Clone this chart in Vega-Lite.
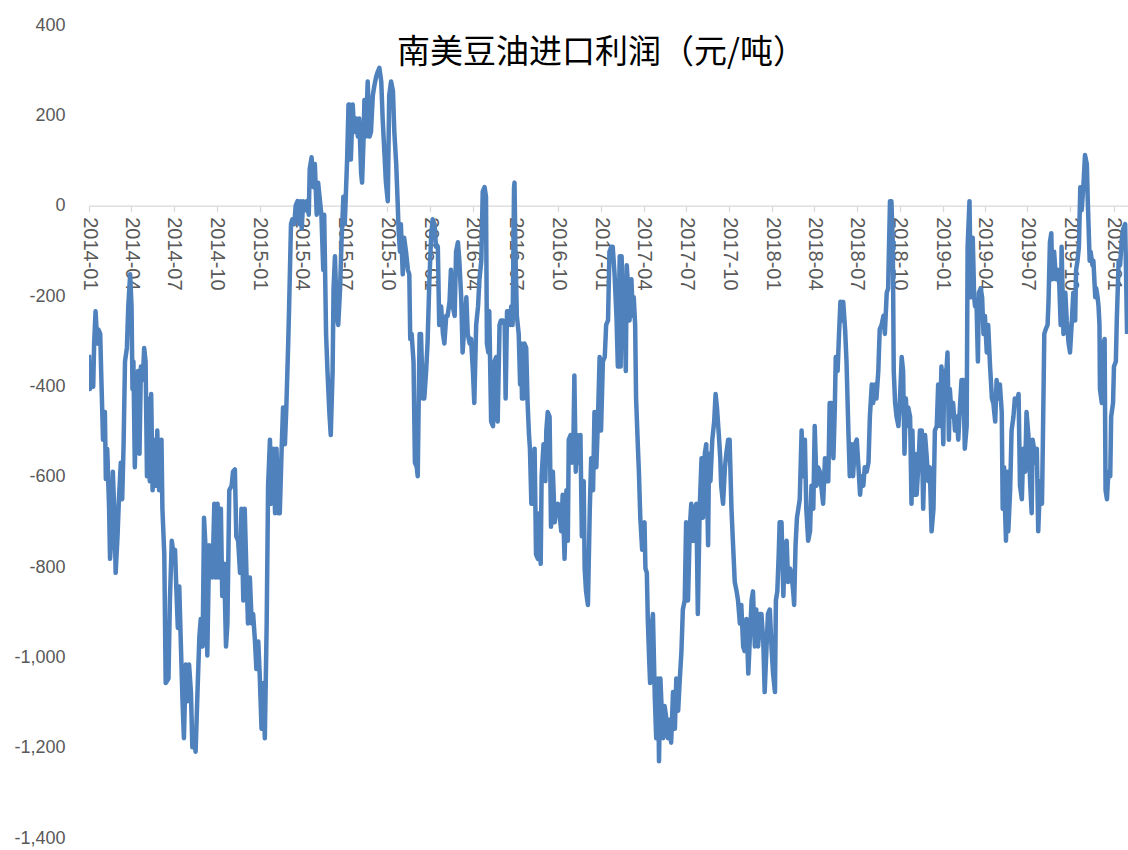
{
"$schema":"https://vega.github.io/schema/vega-lite/v6.json",
"width":1039,"height":813,
"autosize":{"type":"none"},
"padding":{"left":89,"top":25,"right":0,"bottom":12},
"background":"white",
"config":{"view":{"stroke":null}},
"data":{"format":{"parse":{"d":"date:'%Y-%j'"}},"values":[
{"d":"2014-1","v":-330},{"d":"2014-3","v":-406},{"d":"2014-7","v":-366},{"d":"2014-10","v":-401},{"d":"2014-12","v":-305},{"d":"2014-15","v":-234},{"d":"2014-19","v":-305},{"d":"2014-21","v":-274},{"d":"2014-25","v":-284},{"d":"2014-27","v":-366},{"d":"2014-31","v":-518},{"d":"2014-35","v":-457},{"d":"2014-37","v":-605},{"d":"2014-40","v":-539},{"d":"2014-44","v":-671},{"d":"2014-46","v":-782},{"d":"2014-50","v":-721},{"d":"2014-52","v":-589},{"d":"2014-56","v":-701},{"d":"2014-58","v":-813},{"d":"2014-62","v":-732},{"d":"2014-65","v":-650},{"d":"2014-69","v":-569},{"d":"2014-72","v":-650},{"d":"2014-75","v":-528},{"d":"2014-78","v":-345},{"d":"2014-82","v":-315},{"d":"2014-85","v":-223},{"d":"2014-89","v":-152},{"d":"2014-92","v":-223},{"d":"2014-94","v":-406},{"d":"2014-96","v":-345},{"d":"2014-99","v":-579},{"d":"2014-102","v":-447},{"d":"2014-106","v":-366},{"d":"2014-109","v":-549},{"d":"2014-112","v":-356},{"d":"2014-116","v":-386},{"d":"2014-119","v":-315},{"d":"2014-122","v":-345},{"d":"2014-125","v":-599},{"d":"2014-127","v":-427},{"d":"2014-131","v":-610},{"d":"2014-134","v":-417},{"d":"2014-137","v":-630},{"d":"2014-140","v":-518},{"d":"2014-144","v":-620},{"d":"2014-147","v":-498},{"d":"2014-151","v":-630},{"d":"2014-156","v":-518},{"d":"2014-158","v":-671},{"d":"2014-162","v":-772},{"d":"2014-165","v":-1057},{"d":"2014-171","v":-1047},{"d":"2014-174","v":-874},{"d":"2014-178","v":-742},{"d":"2014-182","v":-772},{"d":"2014-185","v":-762},{"d":"2014-188","v":-854},{"d":"2014-191","v":-935},{"d":"2014-194","v":-843},{"d":"2014-197","v":-955},{"d":"2014-201","v":-1097},{"d":"2014-204","v":-1179},{"d":"2014-208","v":-1016},{"d":"2014-212","v":-1097},{"d":"2014-215","v":-1016},{"d":"2014-219","v":-1077},{"d":"2014-222","v":-1199},{"d":"2014-226","v":-1179},{"d":"2014-229","v":-1209},{"d":"2014-233","v":-1077},{"d":"2014-237","v":-955},{"d":"2014-240","v":-915},{"d":"2014-244","v":-976},{"d":"2014-247","v":-691},{"d":"2014-251","v":-772},{"d":"2014-254","v":-996},{"d":"2014-258","v":-752},{"d":"2014-261","v":-793},{"d":"2014-265","v":-823},
{"d":"2014-269","v":-660},{"d":"2014-272","v":-823},{"d":"2014-276","v":-660},{"d":"2014-279","v":-823},{"d":"2014-283","v":-671},{"d":"2014-286","v":-864},{"d":"2014-290","v":-793},{"d":"2014-294","v":-976},{"d":"2014-297","v":-925},{"d":"2014-301","v":-630},{"d":"2014-306","v":-620},{"d":"2014-309","v":-589},{"d":"2014-313","v":-584},{"d":"2014-316","v":-732},{"d":"2014-320","v":-742},{"d":"2014-324","v":-813},{"d":"2014-327","v":-671},{"d":"2014-331","v":-874},{"d":"2014-334","v":-671},{"d":"2014-338","v":-823},{"d":"2014-341","v":-925},{"d":"2014-345","v":-823},{"d":"2014-349","v":-925},{"d":"2014-352","v":-904},{"d":"2014-356","v":-965},{"d":"2014-359","v":-1026},{"d":"2014-363","v":-965},
{"d":"2015-1","v":-1036},{"d":"2015-5","v":-1158},{"d":"2015-9","v":-1057},{"d":"2015-12","v":-1179},{"d":"2015-16","v":-925},{"d":"2015-19","v":-620},{"d":"2015-23","v":-518},{"d":"2015-26","v":-660},{"d":"2015-30","v":-538},{"d":"2015-34","v":-681},{"d":"2015-37","v":-538},{"d":"2015-41","v":-681},{"d":"2015-44","v":-681},{"d":"2015-48","v":-538},{"d":"2015-51","v":-447},{"d":"2015-55","v":-528},{"d":"2015-58","v":-447},{"d":"2015-62","v":-305},{"d":"2015-64","v":-223},{"d":"2015-68","v":-41},{"d":"2015-71","v":-30},{"d":"2015-75","v":-41},{"d":"2015-78","v":0},{"d":"2015-82","v":10},{"d":"2015-86","v":-41},{"d":"2015-88","v":10},{"d":"2015-91","v":-51},{"d":"2015-94","v":10},{"d":"2015-98","v":-10},{"d":"2015-102","v":10},{"d":"2015-106","v":-20},{"d":"2015-108","v":81},{"d":"2015-112","v":107},{"d":"2015-116","v":41},{"d":"2015-119","v":92},{"d":"2015-123","v":-20},{"d":"2015-126","v":51},{"d":"2015-130","v":10},{"d":"2015-133","v":-20},{"d":"2015-137","v":-142},{"d":"2015-139","v":-20},{"d":"2015-143","v":-284},{"d":"2015-146","v":-366},{"d":"2015-150","v":-457},{"d":"2015-153","v":-508},{"d":"2015-157","v":-366},{"d":"2015-159","v":-183},{"d":"2015-162","v":-112},{"d":"2015-166","v":-244},{"d":"2015-169","v":-264},{"d":"2015-173","v":-183},{"d":"2015-176","v":-81},{"d":"2015-180","v":20},{"d":"2015-183","v":-41},{"d":"2015-188","v":102},{"d":"2015-191","v":224},
{"d":"2015-193","v":224},{"d":"2015-196","v":102},{"d":"2015-200","v":224},{"d":"2015-203","v":163},{"d":"2015-207","v":193},{"d":"2015-211","v":153},{"d":"2015-214","v":193},{"d":"2015-218","v":71},{"d":"2015-220","v":51},{"d":"2015-223","v":142},{"d":"2015-225","v":234},{"d":"2015-228","v":153},{"d":"2015-232","v":275},{"d":"2015-236","v":153},{"d":"2015-239","v":163},{"d":"2015-243","v":244},{"d":"2015-246","v":264},{"d":"2015-250","v":285},{"d":"2015-253","v":295},{"d":"2015-257","v":305},{"d":"2015-261","v":275},{"d":"2015-264","v":193},{"d":"2015-268","v":112},{"d":"2015-271","v":51},{"d":"2015-275","v":10},{"d":"2015-278","v":244},{"d":"2015-282","v":275},{"d":"2015-286","v":254},{"d":"2015-289","v":163},{"d":"2015-293","v":92},{"d":"2015-296","v":10},{"d":"2015-298","v":-51},{"d":"2015-301","v":-102},{"d":"2015-303","v":-41},{"d":"2015-307","v":-152},{"d":"2015-310","v":-71},{"d":"2015-314","v":-102},{"d":"2015-318","v":-142},{"d":"2015-321","v":-152},{"d":"2015-323","v":-295},{"d":"2015-326","v":-284},{"d":"2015-330","v":-345},{"d":"2015-333","v":-569},{"d":"2015-337","v":-579},{"d":"2015-339","v":-599},{"d":"2015-343","v":-284},{"d":"2015-346","v":-284},{"d":"2015-350","v":-427},{"d":"2015-353","v":-427},{"d":"2015-357","v":-366},{"d":"2015-360","v":-305},{"d":"2015-364","v":-163},
{"d":"2016-3","v":-61},{"d":"2016-6","v":-30},{"d":"2016-10","v":-41},{"d":"2016-13","v":-91},{"d":"2016-17","v":-91},{"d":"2016-20","v":-264},{"d":"2016-24","v":-223},{"d":"2016-28","v":-284},{"d":"2016-31","v":-305},{"d":"2016-35","v":-244},{"d":"2016-38","v":-244},{"d":"2016-42","v":-213},{"d":"2016-45","v":-142},{"d":"2016-49","v":-223},{"d":"2016-53","v":-244},{"d":"2016-56","v":-102},{"d":"2016-60","v":-81},{"d":"2016-63","v":-122},{"d":"2016-67","v":-203},{"d":"2016-70","v":-325},{"d":"2016-74","v":-264},{"d":"2016-78","v":-203},{"d":"2016-81","v":-284},{"d":"2016-85","v":-305},{"d":"2016-88","v":-295},{"d":"2016-92","v":-366},{"d":"2016-95","v":-437},{"d":"2016-99","v":-264},{"d":"2016-103","v":-223},{"d":"2016-106","v":-163},{"d":"2016-110","v":-122},{"d":"2016-113","v":31},
{"d":"2016-117","v":41},{"d":"2016-120","v":20},{"d":"2016-122","v":-305},{"d":"2016-125","v":-325},{"d":"2016-127","v":-234},{"d":"2016-131","v":-478},{"d":"2016-135","v":-488},{"d":"2016-138","v":-345},{"d":"2016-142","v":-335},{"d":"2016-145","v":-478},{"d":"2016-149","v":-264},{"d":"2016-152","v":-254},{"d":"2016-156","v":-254},{"d":"2016-160","v":-264},{"d":"2016-162","v":-427},{"d":"2016-165","v":-234},{"d":"2016-168","v":-234},{"d":"2016-172","v":-264},{"d":"2016-174","v":-223},{"d":"2016-177","v":-264},{"d":"2016-180","v":41},{"d":"2016-181","v":51},{"d":"2016-183","v":-102},{"d":"2016-186","v":-244},{"d":"2016-188","v":-264},{"d":"2016-190","v":-284},{"d":"2016-193","v":-396},{"d":"2016-195","v":-305},{"d":"2016-197","v":-427},{"d":"2016-200","v":-427},{"d":"2016-202","v":-305},{"d":"2016-206","v":-315},{"d":"2016-209","v":-437},{"d":"2016-212","v":-508},{"d":"2016-214","v":-538},{"d":"2016-217","v":-660},{"d":"2016-220","v":-660},{"d":"2016-224","v":-538},{"d":"2016-227","v":-772},{"d":"2016-231","v":-782},{"d":"2016-234","v":-681},{"d":"2016-237","v":-793},{"d":"2016-239","v":-599},{"d":"2016-243","v":-528},{"d":"2016-247","v":-610},{"d":"2016-249","v":-498},{"d":"2016-252","v":-457},{"d":"2016-256","v":-467},{"d":"2016-259","v":-711},{"d":"2016-263","v":-589},{"d":"2016-267","v":-701},{"d":"2016-270","v":-671},{"d":"2016-274","v":-660},{"d":"2016-277","v":-681},{"d":"2016-281","v":-721},{"d":"2016-284","v":-640},{"d":"2016-288","v":-782},{"d":"2016-292","v":-630},{"d":"2016-295","v":-742},{"d":"2016-297","v":-518},{"d":"2016-301","v":-508},{"d":"2016-304","v":-569},{"d":"2016-307","v":-518},{"d":"2016-309","v":-376},{"d":"2016-312","v":-589},{"d":"2016-315","v":-508},{"d":"2016-319","v":-569},{"d":"2016-322","v":-508},{"d":"2016-325","v":-732},{"d":"2016-329","v":-610},{"d":"2016-331","v":-803},{"d":"2016-334","v":-854},{"d":"2016-338","v":-884},{"d":"2016-342","v":-671},{"d":"2016-345","v":-559},{"d":"2016-349","v":-630},{"d":"2016-352","v":-457},{"d":"2016-356","v":-579},{"d":"2016-359","v":-488},{"d":"2016-363","v":-335},{"d":"2016-366","v":-498},
{"d":"2017-4","v":-345},{"d":"2017-8","v":-335},{"d":"2017-11","v":-264},{"d":"2017-15","v":-254},{"d":"2017-18","v":-102},{"d":"2017-22","v":-91},{"d":"2017-25","v":-91},{"d":"2017-29","v":-152},{"d":"2017-33","v":-244},{"d":"2017-36","v":-356},
{"d":"2017-40","v":-112},{"d":"2017-42","v":-356},{"d":"2017-44","v":-112},{"d":"2017-47","v":-223},{"d":"2017-50","v":-223},{"d":"2017-53","v":-366},{"d":"2017-55","v":-132},{"d":"2017-58","v":-183},{"d":"2017-61","v":-254},{"d":"2017-65","v":-163},{"d":"2017-68","v":-244},{"d":"2017-70","v":-203},{"d":"2017-73","v":-264},{"d":"2017-75","v":-427},{"d":"2017-79","v":-538},{"d":"2017-81","v":-589},{"d":"2017-84","v":-691},{"d":"2017-88","v":-762},{"d":"2017-90","v":-711},{"d":"2017-93","v":-701},{"d":"2017-95","v":-803},{"d":"2017-98","v":-813},{"d":"2017-100","v":-915},{"d":"2017-103","v":-1006},{"d":"2017-105","v":-1057},{"d":"2017-108","v":-935},{"d":"2017-111","v":-904},{"d":"2017-115","v":-1087},{"d":"2017-118","v":-1179},{"d":"2017-122","v":-1047},{"d":"2017-124","v":-1230},{"d":"2017-127","v":-1047},{"d":"2017-129","v":-1097},{"d":"2017-133","v":-1179},{"d":"2017-136","v":-1108},{"d":"2017-140","v":-1138},{"d":"2017-143","v":-1179},{"d":"2017-147","v":-1138},{"d":"2017-150","v":-1189},{"d":"2017-154","v":-1077},{"d":"2017-158","v":-1158},{"d":"2017-161","v":-1047},{"d":"2017-165","v":-1118},{"d":"2017-168","v":-1057},{"d":"2017-172","v":-986},{"d":"2017-175","v":-894},{"d":"2017-179","v":-874},{"d":"2017-182","v":-701},{"d":"2017-186","v":-874},{"d":"2017-190","v":-711},{"d":"2017-193","v":-660},{"d":"2017-197","v":-742},{"d":"2017-200","v":-671},{"d":"2017-204","v":-660},{"d":"2017-207","v":-904},{"d":"2017-211","v":-671},{"d":"2017-215","v":-559},{"d":"2017-218","v":-691},{"d":"2017-222","v":-549},{"d":"2017-225","v":-528},{"d":"2017-229","v":-752},{"d":"2017-231","v":-549},{"d":"2017-234","v":-610},{"d":"2017-238","v":-518},{"d":"2017-242","v":-478},{"d":"2017-245","v":-417},{"d":"2017-248","v":-447},{"d":"2017-252","v":-508},{"d":"2017-255","v":-559},{"d":"2017-257","v":-620},{"d":"2017-261","v":-660},{"d":"2017-265","v":-579},{"d":"2017-268","v":-549},{"d":"2017-272","v":-518},{"d":"2017-275","v":-518},{"d":"2017-279","v":-671},{"d":"2017-282","v":-742},{"d":"2017-286","v":-833},{"d":"2017-290","v":-854},{"d":"2017-293","v":-874},{"d":"2017-297","v":-925},{"d":"2017-300","v":-884},{"d":"2017-304","v":-976},{"d":"2017-307","v":-986},{"d":"2017-311","v":-915},{"d":"2017-315","v":-1036},{"d":"2017-318","v":-965},{"d":"2017-322","v":-874},{"d":"2017-325","v":-854},
{"d":"2017-329","v":-976},{"d":"2017-332","v":-894},{"d":"2017-336","v":-976},{"d":"2017-340","v":-904},{"d":"2017-343","v":-904},{"d":"2017-347","v":-965},{"d":"2017-350","v":-1077},{"d":"2017-354","v":-976},{"d":"2017-357","v":-904},{"d":"2017-361","v":-894},{"d":"2017-365","v":-986},
{"d":"2018-3","v":-1036},{"d":"2018-7","v":-1077},{"d":"2018-9","v":-874},{"d":"2018-12","v":-854},{"d":"2018-15","v":-772},{"d":"2018-17","v":-701},{"d":"2018-21","v":-701},{"d":"2018-25","v":-864},{"d":"2018-28","v":-752},{"d":"2018-32","v":-742},{"d":"2018-35","v":-833},{"d":"2018-39","v":-803},{"d":"2018-42","v":-813},{"d":"2018-46","v":-854},{"d":"2018-48","v":-884},{"d":"2018-51","v":-752},{"d":"2018-54","v":-691},{"d":"2018-57","v":-671},{"d":"2018-60","v":-650},{"d":"2018-64","v":-498},{"d":"2018-67","v":-599},{"d":"2018-71","v":-518},{"d":"2018-74","v":-671},{"d":"2018-78","v":-742},{"d":"2018-82","v":-721},{"d":"2018-85","v":-620},{"d":"2018-89","v":-671},{"d":"2018-92","v":-488},{"d":"2018-96","v":-620},{"d":"2018-99","v":-579},{"d":"2018-103","v":-589},{"d":"2018-107","v":-630},{"d":"2018-110","v":-660},{"d":"2018-114","v":-559},{"d":"2018-117","v":-610},{"d":"2018-121","v":-610},{"d":"2018-124","v":-437},{"d":"2018-128","v":-437},{"d":"2018-132","v":-559},{"d":"2018-135","v":-447},{"d":"2018-137","v":-335},{"d":"2018-141","v":-366},{"d":"2018-144","v":-284},{"d":"2018-147","v":-213},{"d":"2018-149","v":-254},{"d":"2018-153","v":-213},{"d":"2018-157","v":-274},{"d":"2018-160","v":-345},{"d":"2018-164","v":-498},{"d":"2018-167","v":-599},{"d":"2018-171","v":-528},{"d":"2018-174","v":-599},{"d":"2018-178","v":-528},{"d":"2018-182","v":-518},{"d":"2018-185","v":-569},{"d":"2018-189","v":-640},{"d":"2018-192","v":-599},{"d":"2018-196","v":-620},{"d":"2018-199","v":-579},{"d":"2018-203","v":-589},{"d":"2018-207","v":-569},{"d":"2018-210","v":-467},{"d":"2018-214","v":-396},{"d":"2018-217","v":-437},{"d":"2018-221","v":-396},{"d":"2018-224","v":-427},{"d":"2018-228","v":-366},{"d":"2018-231","v":-274},{"d":"2018-235","v":-264},{"d":"2018-239","v":-244},{"d":"2018-242","v":-284},{"d":"2018-246","v":-193},{"d":"2018-249","v":-183},
{"d":"2018-253","v":10},{"d":"2018-256","v":10},{"d":"2018-259","v":-81},{"d":"2018-261","v":-366},{"d":"2018-264","v":-437},{"d":"2018-267","v":-467},{"d":"2018-271","v":-488},{"d":"2018-274","v":-437},{"d":"2018-278","v":-335},{"d":"2018-281","v":-366},{"d":"2018-284","v":-549},{"d":"2018-287","v":-427},{"d":"2018-290","v":-488},{"d":"2018-292","v":-447},{"d":"2018-296","v":-467},{"d":"2018-299","v":-660},{"d":"2018-301","v":-498},{"d":"2018-304","v":-640},{"d":"2018-306","v":-549},{"d":"2018-310","v":-640},{"d":"2018-314","v":-569},{"d":"2018-317","v":-498},{"d":"2018-321","v":-498},{"d":"2018-324","v":-671},{"d":"2018-328","v":-508},{"d":"2018-331","v":-549},{"d":"2018-335","v":-610},{"d":"2018-338","v":-579},{"d":"2018-342","v":-721},{"d":"2018-346","v":-671},{"d":"2018-349","v":-498},{"d":"2018-353","v":-488},{"d":"2018-356","v":-396},{"d":"2018-360","v":-488},{"d":"2018-363","v":-356},
{"d":"2019-2","v":-528},{"d":"2019-4","v":-366},{"d":"2019-7","v":-396},{"d":"2019-11","v":-325},{"d":"2019-14","v":-518},{"d":"2019-16","v":-406},{"d":"2019-20","v":-467},{"d":"2019-23","v":-437},{"d":"2019-27","v":-498},{"d":"2019-31","v":-467},{"d":"2019-34","v":-518},{"d":"2019-38","v":-437},{"d":"2019-41","v":-386},{"d":"2019-45","v":-386},{"d":"2019-48","v":-538},{"d":"2019-52","v":-488},{"d":"2019-54","v":-91},{"d":"2019-58","v":10},{"d":"2019-61","v":-203},{"d":"2019-65","v":-71},{"d":"2019-68","v":-203},{"d":"2019-70","v":-223},{"d":"2019-73","v":-213},{"d":"2019-76","v":-345},{"d":"2019-78","v":-193},{"d":"2019-82","v":-183},{"d":"2019-85","v":-203},{"d":"2019-88","v":-284},{"d":"2019-91","v":-244},{"d":"2019-95","v":-325},{"d":"2019-98","v":-264},{"d":"2019-102","v":-356},{"d":"2019-106","v":-427},{"d":"2019-109","v":-437},{"d":"2019-113","v":-478},{"d":"2019-116","v":-386},{"d":"2019-120","v":-427},
{"d":"2019-123","v":-396},{"d":"2019-127","v":-457},{"d":"2019-129","v":-671},{"d":"2019-132","v":-579},{"d":"2019-134","v":-671},{"d":"2019-136","v":-742},{"d":"2019-139","v":-589},{"d":"2019-141","v":-721},{"d":"2019-145","v":-630},{"d":"2019-148","v":-498},{"d":"2019-152","v":-467},{"d":"2019-155","v":-427},{"d":"2019-159","v":-437},{"d":"2019-163","v":-417},{"d":"2019-166","v":-620},{"d":"2019-170","v":-650},{"d":"2019-173","v":-538},{"d":"2019-177","v":-589},{"d":"2019-180","v":-457},{"d":"2019-184","v":-508},{"d":"2019-188","v":-620},{"d":"2019-191","v":-681},{"d":"2019-193","v":-518},{"d":"2019-196","v":-538},{"d":"2019-199","v":-569},{"d":"2019-202","v":-538},{"d":"2019-205","v":-721},{"d":"2019-209","v":-610},{"d":"2019-213","v":-660},{"d":"2019-215","v":-518},{"d":"2019-218","v":-284},{"d":"2019-221","v":-274},{"d":"2019-225","v":-264},{"d":"2019-227","v":-213},{"d":"2019-230","v":-81},{"d":"2019-233","v":-61},{"d":"2019-235","v":-163},{"d":"2019-239","v":-102},{"d":"2019-243","v":-163},{"d":"2019-246","v":-142},{"d":"2019-250","v":-173},{"d":"2019-253","v":-264},{"d":"2019-255","v":-91},{"d":"2019-259","v":-284},{"d":"2019-263","v":-193},{"d":"2019-266","v":-254},{"d":"2019-270","v":-305},{"d":"2019-273","v":-325},{"d":"2019-277","v":-254},{"d":"2019-280","v":-193},{"d":"2019-284","v":-254},{"d":"2019-286","v":-142},{"d":"2019-289","v":-122},{"d":"2019-292","v":-91},{"d":"2019-295","v":41},{"d":"2019-298","v":-10},{"d":"2019-302","v":51},{"d":"2019-305","v":112},{"d":"2019-309","v":92},{"d":"2019-311","v":10},{"d":"2019-315","v":-122},{"d":"2019-317","v":-102},{"d":"2019-321","v":-132},{"d":"2019-323","v":-122},{"d":"2019-327","v":-203},{"d":"2019-329","v":-183},{"d":"2019-332","v":-203},{"d":"2019-334","v":-223},{"d":"2019-336","v":-264},{"d":"2019-337","v":-406},{"d":"2019-341","v":-437},{"d":"2019-343","v":-315},{"d":"2019-347","v":-295},{"d":"2019-349","v":-630},{"d":"2019-352","v":-650},{"d":"2019-355","v":-589},{"d":"2019-359","v":-599},{"d":"2019-361","v":-467},{"d":"2019-365","v":-437},
{"d":"2020-2","v":-356},{"d":"2020-6","v":-345},{"d":"2020-8","v":-254},{"d":"2020-12","v":-122},{"d":"2020-15","v":-132},{"d":"2020-19","v":-71},{"d":"2020-22","v":-51},{"d":"2020-26","v":-41},{"d":"2020-30","v":-284}
]},
"layer":[
{"mark":{"type":"line","color":"#4F81BD","strokeWidth":4.5,"strokeJoin":"round","clip":true},
"encoding":{
"x":{"field":"d","type":"temporal","scale":{"domain":[{"year":2014,"month":1,"date":1},{"year":2020,"month":2,"date":1}]},
"axis":{"orient":"bottom","offset":-632.3,"format":"%Y-%m","tickCount":{"interval":"month","step":3},"labelAngle":90,"labelAlign":"left","labelBaseline":"middle","labelFont":"Liberation Sans","labelFontSize":20,"labelColor":"#595959","labelPadding":5,"tickSize":6,"tickColor":"#d9d9d9","domainColor":"#d9d9d9","domainWidth":1.3,"tickWidth":1.3,"grid":false,"title":null,"labelOverlap":false,"labelFlush":false,"labelBound":false}},
"y":{"field":"v","type":"quantitative","scale":{"domain":[-1400,400],"nice":false,"zero":false},
"axis":{"values":[-1400,-1200,-1000,-800,-600,-400,-200,0,200,400],"labelExpr":"replace(format(datum.value, ','), '\u2212', '-')","domain":false,"ticks":false,"grid":false,"labelPadding":24,"labelFont":"Liberation Sans","labelFontSize":18,"labelColor":"#595959","title":null}}
}},
{"data":{"values":[{"t":"南美豆油进口利润（元/吨）","td":"2017-01-01","tv":339}],"format":{"parse":{"td":"date:'%Y-%m-%d'"}}},
"mark":{"type":"text","font":"Noto Sans CJK SC","fontSize":33,"fontWeight":"normal","color":"#000000","align":"center","baseline":"middle"},
"encoding":{"text":{"field":"t"},"x":{"field":"td","type":"temporal"},"y":{"field":"tv","type":"quantitative"}}}
]
}
